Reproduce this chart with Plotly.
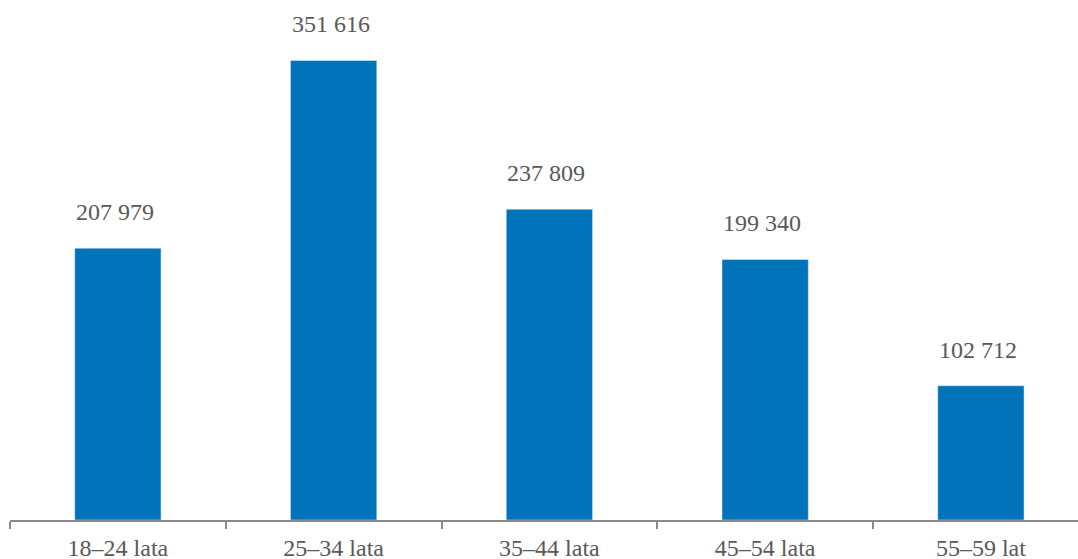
import plotly.graph_objects as go

categories = ["18–24 lata", "25–34 lata", "35–44 lata", "45–54 lata", "55–59 lat"]
values = [207979, 351616, 237809, 199340, 102712]
value_labels = ["207 979", "351 616", "237 809", "199 340", "102 712"]

fig = go.Figure()
fig.add_trace(go.Bar(x=categories, y=values, marker_color="#0073BA",
                     width=0.4, hoverinfo="skip"))

for c, v, t in zip(categories, values, value_labels):
    fig.add_annotation(x=c, y=v, text=t, showarrow=False, yanchor="bottom",
                       yshift=21, xshift=-3,
                       font=dict(family="Liberation Serif", size=24, color="#595959"))

fig.update_layout(
    width=1078, height=559,
    margin=dict(l=10, r=0, t=0, b=38.5),
    plot_bgcolor="white", paper_bgcolor="white",
    showlegend=False,
)
fig.update_xaxes(
    type="category", automargin=False,
    range=[-0.5, 4.45], tickson="boundaries",
    showline=True, linecolor="#898989", linewidth=2,
    ticks="outside", ticklen=7, tickcolor="#898989", tickwidth=2,
    ticklabelstandoff=5,
    showgrid=False, zeroline=False,
    tickfont=dict(family="Liberation Serif", size=24, color="#595959"),
)
fig.update_yaxes(range=[0, 397900], visible=False, showgrid=False, zeroline=False)

fig.write_html("out.html")
